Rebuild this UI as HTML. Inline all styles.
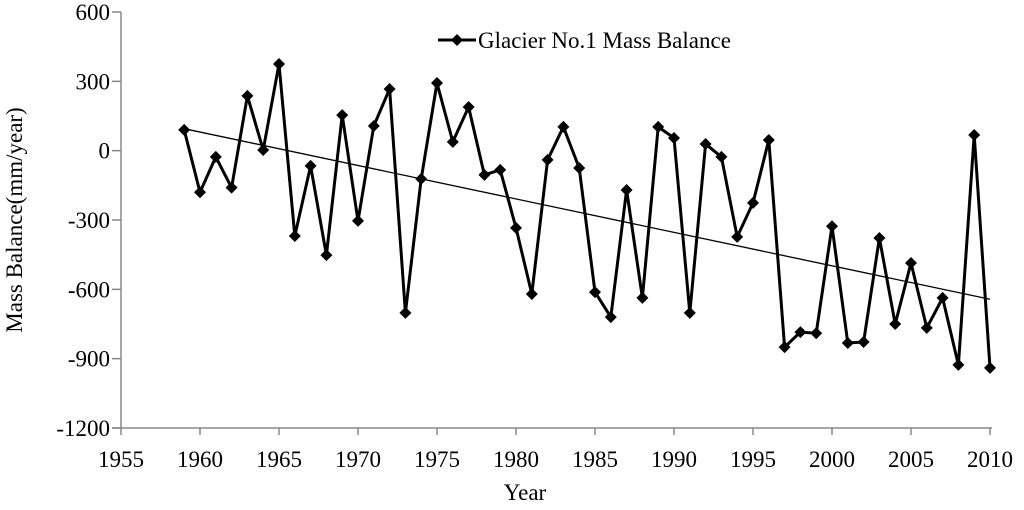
<!DOCTYPE html>
<html><head><meta charset="utf-8"><style>
body{margin:0;background:#fff}
svg text{font-family:"Liberation Serif",serif;fill:#000}
</style></head><body>
<svg id="c" width="1024" height="505" viewBox="0 0 1024 505"></svg>
<script>
const years=[1959,1960,1961,1962,1963,1964,1965,1966,1967,1968,1969,1970,1971,1972,1973,1974,1975,1976,1977,1978,1979,1980,1981,1982,1983,1984,1985,1986,1987,1988,1989,1990,1991,1992,1993,1994,1995,1996,1997,1998,1999,2000,2001,2002,2003,2004,2005,2006,2007,2008,2009,2010];
const balance=[90,-180,-27,-160,237,3,375,-369,-66,-452,154,-304,107,267,-702,-122,293,38,189,-105,-83,-334,-620,-40,103,-75,-612,-720,-170,-637,103,55,-702,29,-27,-373,-226,46,-850,-785,-790,-327,-832,-828,-378,-750,-486,-767,-637,-927,68,-940];
const xTicks=[1955,1960,1965,1970,1975,1980,1985,1990,1995,2000,2005,2010];
const yTicks=[600,300,0,-300,-600,-900,-1200];
const NS="http://www.w3.org/2000/svg",svg=document.getElementById('c');
const X0=121,X1=990,Y0=428,Y1=12;
const xs=v=>X0+(v-1955)/55*(X1-X0);
const ys=v=>Y0-(v+1200)/1800*(Y0-Y1);
function el(t,a,p){const e=document.createElementNS(NS,t);for(const k in a)e.setAttribute(k,a[k]);(p||svg).appendChild(e);return e;}
let ax=el('line',{x1:X0,y1:Y1,x2:X0,y2:Y0,stroke:'#888','stroke-width':1.5});

ax=el('line',{x1:X0-9,y1:Y0,x2:X1+2,y2:Y0,stroke:'#888','stroke-width':1.5});

yTicks.forEach(v=>{const y=ys(v);el('line',{x1:X0-9,y1:y,x2:X0,y2:y,stroke:'#888','stroke-width':1.5});
 const t=el('text',{x:X0-11,y:y+8,'text-anchor':'end','font-size':23});t.textContent=v;
 });
xTicks.forEach(v=>{const x=xs(v);el('line',{x1:x,y1:Y0,x2:x,y2:Y0+7,stroke:'#888','stroke-width':1.5});
 const t=el('text',{x:x,y:Y0+39,'text-anchor':'middle','font-size':23});t.textContent=v;
 });
let t=el('text',{x:525,y:500,'text-anchor':'middle','font-size':23});t.textContent='Year';

t=el('text',{x:0,y:0,'text-anchor':'middle','font-size':23,transform:'translate(22,220) rotate(-90)'});t.textContent='Mass Balance(mm/year)';

const n=years.length;let mx=0,my=0;years.forEach((v,i)=>{mx+=v;my+=balance[i]});mx/=n;my/=n;
let sxy=0,sxx=0;years.forEach((v,i)=>{sxy+=(v-mx)*(balance[i]-my);sxx+=(v-mx)*(v-mx)});
const b=sxy/sxx,a=my-b*mx;
let tl=el('line',{x1:xs(years[0]),y1:ys(a+b*years[0]),x2:xs(years[n-1]),y2:ys(a+b*years[n-1]),stroke:'#000','stroke-width':1.3});

let pl=el('polyline',{points:years.map((v,i)=>xs(v)+','+ys(balance[i])).join(' '),fill:'none',stroke:'#000','stroke-width':3,'stroke-linejoin':'round'});

function dia(x,y){return el('polygon',{points:`${x},${y-6} ${x+6},${y} ${x},${y+6} ${x-6},${y}`,fill:'#000'});}
years.forEach((v,i)=>{const d=dia(xs(v),ys(balance[i]));
 });
const lg=el('g',{});
el('line',{x1:438,y1:40,x2:476,y2:40,stroke:'#000','stroke-width':3},lg);
el('polygon',{points:'457,34 463,40 457,46 451,40',fill:'#000'},lg);
t=el('text',{x:478,y:48,'font-size':23},lg);t.textContent='Glacier No.1 Mass Balance';

</script></body></html>
